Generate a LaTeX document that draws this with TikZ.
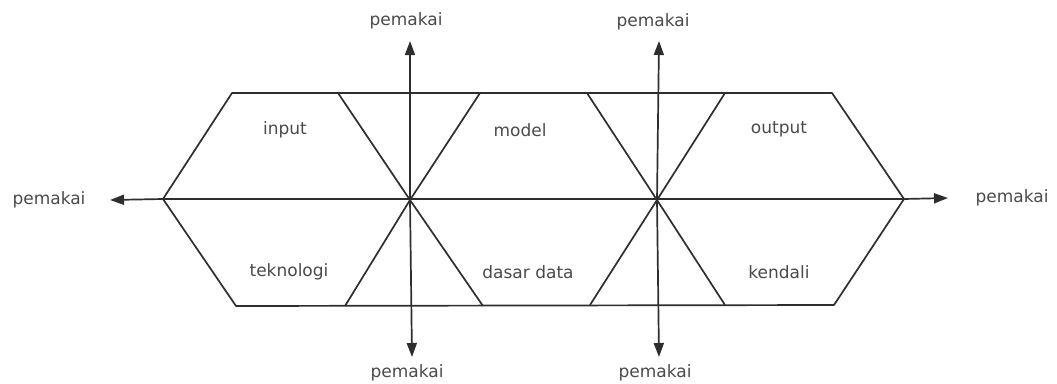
\documentclass[tikz,border=0pt]{standalone}
\usepackage{fontspec}
\setmainfont{DejaVu Sans}
\usetikzlibrary{arrows.meta}
\definecolor{linec}{HTML}{2E2E2E}
\definecolor{textc}{HTML}{4A4A4A}
\begin{document}
\begin{tikzpicture}[x=1pt,y=-1pt,
  edge/.style={draw=linec,line width=1.7pt,line join=round},
  arr/.style={edge,-{Triangle[length=14pt,width=10pt]}},
  lbl/.style={text=textc,font=\fontsize{17}{19}\selectfont,inner sep=0pt}]
\useasboundingbox (0,0) rectangle (1057,383);
% hexagon vertices
\coordinate (TL) at (232,93);
\coordinate (TR) at (832,93);
\coordinate (R) at (904,199);
\coordinate (BR) at (834,305);
\coordinate (BL) at (236,306);
\coordinate (L) at (163,199);
% centres
\coordinate (C1) at (410,200);
\coordinate (C2) at (657,200);
% diagonal ends
\coordinate (A1) at (338,93);
\coordinate (A2) at (480,93);
\coordinate (A3) at (345,306);
\coordinate (A4) at (483,306);
\coordinate (B1) at (587,93);
\coordinate (B2) at (725,93);
\coordinate (B3) at (590,305);
\coordinate (B4) at (725,305);
% outline
\draw[edge] (TL) -- (TR) -- (R) -- (BR) -- (BL) -- (L) -- cycle;
% diagonals
\draw[edge] (A1) -- (C1) -- (A4);
\draw[edge] (A2) -- (C1) -- (A3);
\draw[edge] (B1) -- (C2) -- (B4);
\draw[edge] (B2) -- (C2) -- (B3);
% arrow tips
\coordinate (HL) at (110,200);
\coordinate (HR) at (948,198);
\coordinate (V1T) at (410,41);
\coordinate (V1B) at (412,357);
\coordinate (V2T) at (659,41);
\coordinate (V2B) at (659,357);
% arrows
\draw[edge] (L) -- (R);
\draw[arr] (L) -- (HL);
\draw[arr] (R) -- (HR);
\draw[arr] (C1) -- (V1T);
\draw[arr] (C1) -- (V1B);
\draw[arr] (C2) -- (V2T);
\draw[arr] (C2) -- (V2B);
% pemakai labels
\node[lbl] (pL) at (49,200) {pemakai};
\node[lbl] (pR) at (1012,198) {pemakai};
\node[lbl] (pT1) at (406,21) {pemakai};
\node[lbl] (pT2) at (653,22) {pemakai};
\node[lbl] (pB1) at (407,373) {pemakai};
\node[lbl] (pB2) at (655,373) {pemakai};
% sector labels
\node[lbl] (in) at (285,130) {input};
\node[lbl] (mo) at (520,130) {model};
\node[lbl] (ou) at (779,129) {output};
\node[lbl] (te) at (289,272) {teknologi};
\node[lbl] (dd) at (528,272) {dasar data};
\node[lbl] (ke) at (779,272) {kendali};
\end{tikzpicture}
\end{document}
